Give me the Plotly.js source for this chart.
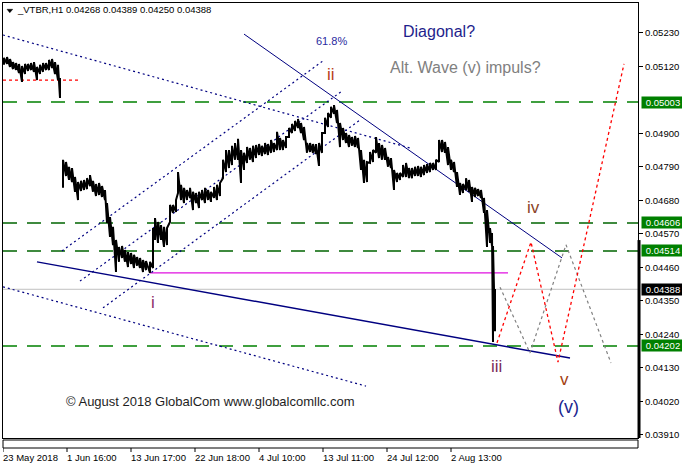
<!DOCTYPE html>
<html><head><meta charset="utf-8">
<script src="https://cdn.plot.ly/plotly-3.0.1.min.js"></script>
<style>html,body{margin:0;padding:0;background:#fff}#chart{width:682px;height:469px}</style>
</head><body><div id="chart"></div>
<script>
// ---------- data ----------
const symbol = "_VTBR,H1";
const lastOHLC = [0.04268, 0.04389, 0.04250, 0.04388];

// hourly bar index (sampled) and high / low prices
const bars = [1,4,7,10,13,16,19,22,25,28,31,34,37,40,43,46,49,52,55,57,
  60,63,66,69,72,75,78,81,84,87,90,93,96,99,102,
  104,107,110,113,116,119,122,125,128,131,134,137,140,143,147,
  150,152,155,158,161,164,167,170,173,175,
  178,181,184,187,190,193,196,199,202,205,208,211,214,217,220,223,226,229,232,235,
  238,241,244,247,250,253,256,259,262,265,268,271,274,277,280,283,286,289,292,295,
  298,301,304,307,310,313,316,319,322,325,328,331,334,337,340,343,346,349,352,355,
  358,361,364,367,370,373,376,379,382,385,388,391,394,397,400,403,406,409,412,415,
  418,421,424,427,430,433,436,439,442,445,448,451,454,457,460,463,466,469,472,475,
  478,481,484,487,489,490,492];
const highs = [0.05148,0.05151,0.05144,0.05134,0.05131,0.05128,0.05121,0.05128,0.05128,0.05131,0.05134,0.05118,0.05125,0.05131,0.05131,0.05141,0.05144,0.05134,0.05125,0.05082,
  0.04813,0.04806,0.04790,0.04786,0.04757,0.04740,0.04744,0.04747,0.04753,0.04763,0.04744,0.04734,0.04737,0.04727,0.04714,
  0.04671,0.04625,0.04593,0.04550,0.04527,0.04530,0.04517,0.04510,0.04507,0.04501,0.04494,0.04491,0.04484,0.04481,0.04478,
  0.04589,0.04622,0.04609,0.04599,0.04593,0.04589,0.04665,0.04665,0.04681,0.04773,
  0.04731,0.04721,0.04714,0.04721,0.04708,0.04704,0.04708,0.04714,0.04721,0.04714,0.04708,0.04724,0.04731,0.04737,0.04813,0.04845,0.04845,0.04859,0.04868,0.04882,
  0.04845,0.04836,0.04855,0.04852,0.04859,0.04862,0.04865,0.04859,0.04868,0.04865,0.04878,0.04868,0.04905,0.04885,0.04878,0.04888,0.04918,0.04931,0.04941,0.04947,
  0.04934,0.04921,0.04868,0.04868,0.04865,0.04865,0.04868,0.04901,0.04951,0.04967,0.04987,0.04993,0.04977,0.04934,0.04918,0.04901,0.04895,0.04888,0.04891,0.04885,
  0.04845,0.04813,0.04806,0.04839,0.04845,0.04888,0.04868,0.04862,0.04852,0.04822,0.04819,0.04780,0.04770,0.04770,0.04796,0.04803,0.04786,0.04786,0.04790,0.04793,
  0.04790,0.04796,0.04799,0.04803,0.04803,0.04813,0.04878,0.04878,0.04872,0.04855,0.04813,0.04806,0.04773,0.04737,0.04734,0.04753,0.04747,0.04724,0.04721,0.04717,
  0.04714,0.04688,0.04648,0.04589,0.04573,0.04530,0.04389];
const lows = [0.05125,0.05128,0.05118,0.05111,0.05108,0.05098,0.05069,0.05095,0.05105,0.05108,0.05102,0.05075,0.05095,0.05102,0.05108,0.05108,0.05115,0.05095,0.05075,0.05016,
  0.04721,0.04760,0.04747,0.04740,0.04708,0.04681,0.04711,0.04714,0.04717,0.04727,0.04708,0.04694,0.04698,0.04691,0.04681,
  0.04606,0.04560,0.04533,0.04445,0.04478,0.04491,0.04478,0.04461,0.04471,0.04458,0.04465,0.04458,0.04445,0.04451,0.04442,
  0.04458,0.04550,0.04540,0.04550,0.04527,0.04533,0.04609,0.04639,0.04642,0.04704,
  0.04681,0.04671,0.04681,0.04688,0.04648,0.04671,0.04655,0.04681,0.04671,0.04681,0.04675,0.04688,0.04681,0.04694,0.04753,0.04773,0.04786,0.04796,0.04813,0.04813,
  0.04737,0.04780,0.04803,0.04813,0.04806,0.04819,0.04829,0.04826,0.04832,0.04829,0.04836,0.04839,0.04845,0.04845,0.04845,0.04852,0.04888,0.04901,0.04908,0.04918,
  0.04901,0.04878,0.04836,0.04839,0.04836,0.04832,0.04793,0.04836,0.04901,0.04921,0.04951,0.04964,0.04934,0.04855,0.04878,0.04868,0.04855,0.04859,0.04855,0.04852,
  0.04780,0.04737,0.04740,0.04803,0.04806,0.04836,0.04819,0.04813,0.04813,0.04790,0.04786,0.04714,0.04740,0.04747,0.04757,0.04757,0.04753,0.04753,0.04760,0.04760,
  0.04757,0.04763,0.04770,0.04773,0.04780,0.04780,0.04806,0.04839,0.04836,0.04796,0.04780,0.04773,0.04724,0.04698,0.04704,0.04714,0.04708,0.04675,0.04691,0.04694,
  0.04688,0.04639,0.04527,0.04540,0.04530,0.04215,0.04250];

// axis
const xTickBars = [0,64,128,192,256,320,384,448];
const xTickLabels = ["23 May 2018","1 Jun 16:00","13 Jun 17:00","22 Jun 18:00","4 Jul 10:00","13 Jul 11:00","24 Jul 12:00","2 Aug 13:00"];
const yTickVals = [0.0391,0.0402,0.0413,0.0424,0.0435,0.0446,0.0457,0.0468,0.0479,0.0490,0.0512,0.0523];
const yRange = [0.038996, 0.053281];
const xRange = [0, 635];

// levels
const greenLevels = [0.05003, 0.04606, 0.04514, 0.04202];
const bidPrice = 0.04388;
const redLevelBars = [0, 75], redLevelPrice = 0.05075;
const magentaBars = [147, 505], magentaPrice = 0.04442;

// trend lines (bar, price)
const wedgeLowBars = [34, 567], wedgeLowPrices = [0.04478, 0.04162];
const wedgeHighBars = [241, 559], wedgeHighPrices = [0.05226, 0.04491];
const chanTopBars = [0, 407], chanTopPrices = [0.05223, 0.04852];
const chanBotBars = [0, 363], chanBotPrices = [0.04396, 0.04070];
const riseABars = [59, 320], riseAPrices = [0.04514, 0.05138];
const riseBBars = [77, 339], riseBPrices = [0.04415, 0.05039];
const riseCBars = [100, 357], riseCPrices = [0.04327, 0.04944];

// projected wave paths
const redPathBars = [494, 528, 555, 621], redPathPrices = [0.04212, 0.04543, 0.04149, 0.05128];
const grayPathBars = [497, 527, 563, 608], grayPathPrices = [0.04395, 0.04179, 0.04534, 0.04146];

// wave labels
const waveLabels = ["ii", "iv", "i", "iii", "v", "(v)", "61.8%"];
const waveBars = [328, 530, 150, 493, 561, 565, 328];
const wavePrices = [0.05092, 0.04658, 0.04346, 0.04136, 0.04093, 0.04001, 0.05203];
const waveColors = ["#b8401a", "#8b4527", "#8b2a6b", "#7a2a5a", "#a34010", "#1c2590", "#2a2aa0"];
const waveSizes = [17, 17, 17, 17, 17, 18, 11];

const noteTexts = ["Diagonal?", "Alt. Wave (v) impuls?", "© August 2018 GlobalCom www.globalcomllc.com"];
const noteBars = [436, 462, 207];
const notePrices = [0.05233, 0.05115, 0.04021];
const noteColors = ["#1e1e8c", "#808080", "#1e1e1e"];
const noteSizes = [16, 16, 13];

// ---------- build ----------
const AX = "Liberation Sans, Arial, sans-serif";
// price drawn as a continuous high/low zigzag, broken where price gaps
const px = [], py = [];
for (let i = 0; i < bars.length; i++) {
  if (i > 0 && (highs[i] < lows[i - 1] - 0.001 || lows[i] > highs[i - 1] + 0.001)) { px.push(null); py.push(null); }
  px.push(bars[i], bars[i]);
  py.push(lows[i], highs[i]);
}

const traces = [];
function line(x, y, color, width, dash) {
  traces.push({type: 'scatter', mode: 'lines', x: x, y: y, hoverinfo: 'skip',
    line: {color: color, width: width, dash: dash || 'solid'}});
}
line(redLevelBars, [redLevelPrice, redLevelPrice], '#ff0000', 1.2, '3px,3px');
line(magentaBars, [magentaPrice, magentaPrice], '#e010e0', 1.2);
line(chanTopBars, chanTopPrices, '#000080', 1.2, '2px,3px');
line(chanBotBars, chanBotPrices, '#000080', 1.2, '2px,3px');
line(riseABars, riseAPrices, '#000080', 1.2, '2px,3px');
line(riseBBars, riseBPrices, '#000080', 1.2, '2px,3px');
line(riseCBars, riseCPrices, '#000080', 1.2, '2px,3px');
line(wedgeLowBars, wedgeLowPrices, '#000080', 1.5);
line(wedgeHighBars, wedgeHighPrices, '#000080', 1);
line(grayPathBars, grayPathPrices, '#808080', 1.2, '3px,3px');
line(redPathBars, redPathPrices, '#ff0000', 1.3, '3px,3px');
traces.push({type: 'scatter', mode: 'lines', x: px, y: py, hoverinfo: 'skip', connectgaps: false,
  line: {color: '#000000', width: 2}});

const shapes = [];
greenLevels.forEach((v, i) => shapes.push({type: 'line', xref: 'paper', x0: 0, x1: 1, yref: 'y', y0: v, y1: v, layer: 'below',
  line: {color: (i === 1 || i === 2) ? '#006400' : '#008000', width: 1.5, dash: '14px,10px'}}));
shapes.push({type: 'line', xref: 'paper', x0: 0, x1: 1, yref: 'y', y0: bidPrice, y1: bidPrice, layer: 'below',
  line: {color: '#c0c0c0', width: 1}});
// lower strip below the chart
shapes.push({type: 'rect', xref: 'paper', x0: 0, x1: 1, yref: 'paper', y0: -0.0046, y1: -0.0230, line: {color: '#000', width: 1}});
xTickBars.forEach(b => shapes.push({type: 'line', xref: 'x', x0: b, x1: b, yref: 'paper', y0: -0.0230, y1: -0.0322,
  line: {color: '#000', width: 1}}));
// thick right marker
shapes.push({type: 'line', xref: 'paper', x0: 1.0016, x1: 1.0016, yref: 'paper', y0: 0, y1: 0.455, line: {color: '#000', width: 3}});
// title triangle
shapes.push({type: 'path', xref: 'paper', yref: 'paper', path: 'M 0.0063 0.9855 L 0.0153 0.9855 L 0.0107 0.9777 Z',
  fillcolor: '#000', line: {color: '#000', width: 0.5}});

const annotations = [];
xTickBars.forEach((b, i) => annotations.push({xref: 'x', x: b, xanchor: 'left', xshift: -2, yref: 'paper', y: -0.0437, yanchor: 'middle',
  text: xTickLabels[i], showarrow: false, font: {family: AX, size: 9.5, color: '#000'}}));
greenLevels.forEach(v => annotations.push({xref: 'paper', x: 1, xanchor: 'left', xshift: 3, yref: 'y', y: v, yanchor: 'middle',
  text: v.toFixed(5), showarrow: false, bgcolor: '#008000', width: 40, height: 9, borderpad: 1, align: 'center',
  font: {family: AX, size: 9.5, color: '#fff'}}));
annotations.push({xref: 'paper', x: 1, xanchor: 'left', xshift: 3, yref: 'y', y: bidPrice, yanchor: 'middle',
  text: bidPrice.toFixed(5), showarrow: false, bgcolor: '#000', width: 40, height: 9, borderpad: 1, align: 'center',
  font: {family: AX, size: 9.5, color: '#fff'}});
waveLabels.forEach((t, i) => annotations.push({xref: 'x', x: waveBars[i], yref: 'y', y: wavePrices[i], text: t, showarrow: false,
  xanchor: 'center', yanchor: 'middle', font: {family: AX, size: waveSizes[i], color: waveColors[i]}}));
noteTexts.forEach((t, i) => annotations.push({xref: 'x', x: noteBars[i], yref: 'y', y: notePrices[i], text: t, showarrow: false,
  xanchor: 'center', yanchor: 'middle', font: {family: AX, size: noteSizes[i], color: noteColors[i]}}));

const layout = {
  width: 682, height: 469,
  margin: {l: 3, r: 44, t: 3, b: 31, pad: 0},
  paper_bgcolor: '#fff', plot_bgcolor: '#fff',
  showlegend: false,
  title: {text: symbol + ' ' + lastOHLC.map(v => v.toFixed(5)).join(' '), xref: 'container', x: 18 / 682, xanchor: 'left',
    yref: 'container', y: 1 - 10 / 469, yanchor: 'middle', font: {family: AX, size: 9.5, color: '#000'}},
  xaxis: {range: xRange, showgrid: false, zeroline: false, showticklabels: false, ticks: '', showline: true, mirror: true,
    linecolor: '#000', linewidth: 1, fixedrange: true},
  yaxis: {range: yRange, side: 'right', tickvals: yTickVals, ticktext: yTickVals.map(v => v.toFixed(5)), ticks: 'outside',
    ticklen: 4, tickcolor: '#000', showgrid: false, zeroline: false, showline: true, mirror: true, linecolor: '#000', linewidth: 1,
    tickfont: {family: AX, size: 9.5, color: '#000'}, fixedrange: true},
  shapes: shapes, annotations: annotations
};
Plotly.newPlot('chart', traces, layout, {displayModeBar: false, staticPlot: true});
</script>
</body></html>
